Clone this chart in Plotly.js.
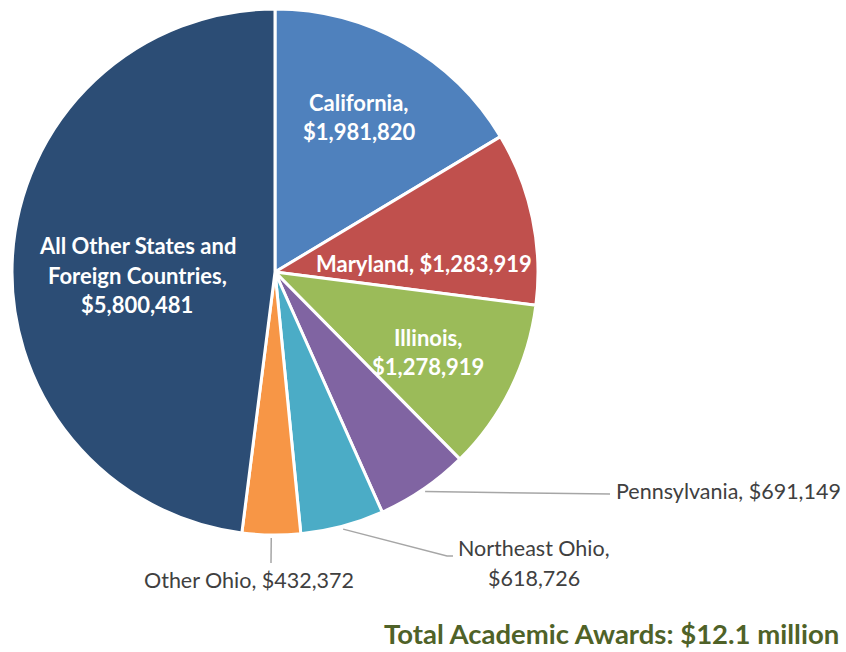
<!DOCTYPE html>
<html>
<head>
<meta charset="utf-8">
<script src="https://cdn.plot.ly/plotly-3.0.1.min.js"></script>
<style>html,body{margin:0;padding:0;background:#fff;}#chart{width:846px;height:652px;}</style>
</head>
<body>
<div id="chart"></div>
<script>
// ---- data ----
const labels = ['California', 'Maryland', 'Illinois', 'Pennsylvania', 'Northeast Ohio', 'Other Ohio', 'All Other States and Foreign Countries'];
const values = [1981820, 1283919, 1278919, 691149, 618726, 432372, 5800481];
const colors = ['#4F81BD', '#C0504D', '#9BBB59', '#8064A2', '#4BACC6', '#F79646', '#2C4D75'];
const totalTitle = 'Total Academic Awards: $12.1 million';

// ---- layout helpers (pixel geometry of the page) ----
const W = 846, H = 652;
const cx = 275, cy = 272, R = 263;
const px = x => x / W;
const py = y => 1 - y / H;
const fmt = v => '$' + v.toLocaleString('en-US');

// label line splitting & placement (layout only)
const labelLines = [
  ['California,', fmt(values[0])],
  [labels[1] + ', ' + fmt(values[1])],
  ['Illinois,', fmt(values[2])],
  [labels[3] + ', ' + fmt(values[3])],
  ['Northeast Ohio,', fmt(values[4])],
  [labels[5] + ', ' + fmt(values[5])],
  ['All Other States and', 'Foreign Countries,', fmt(values[6])]
];
const inside = [true, true, true, false, false, false, true];
const labelPos = [
  {x: 359, y: 117, anchor: 'center'},
  {x: 424, y: 263, anchor: 'center'},
  {x: 428, y: 352, anchor: 'center'},
  {x: 614, y: 491, anchor: 'left'},
  {x: 534, y: 563, anchor: 'center'},
  {x: 249, y: 580, anchor: 'center'},
  {x: 137, y: 275, anchor: 'center'}
];
// leader elbows for outside labels
const leaders = {
  3: [[610, 494]],
  4: [[447, 556], [453, 556]],
  5: [[271, 563]]
};

const FONT = 'Lato, "Open Sans", sans-serif';
const total = values.reduce((a, b) => a + b, 0);
const annotations = [];
const shapes = [];
let cum = 0;
values.forEach((v, i) => {
  const mid = (cum + v / 2) / total * 2 * Math.PI;
  cum += v;
  const lines = labelLines[i];
  const lh = 29.5;
  const p = labelPos[i];
  lines.forEach((t, k) => {
    annotations.push({
      text: inside[i] ? '<b>' + t + '</b>' : t,
      x: px(p.x), y: py(p.y + (k - (lines.length - 1) / 2) * lh),
      xref: 'paper', yref: 'paper', xanchor: p.anchor, yanchor: 'middle',
      showarrow: false,
      font: {family: FONT, size: inside[i] ? 22 : 21.5, color: inside[i] ? '#FFFFFF' : '#404040'}
    });
  });
  if (leaders[i]) {
    const sx = cx + (R + 3) * Math.sin(mid), sy = cy - (R + 3) * Math.cos(mid);
    let path = 'M ' + px(sx) + ' ' + py(sy);
    leaders[i].forEach(pt => { path += ' L ' + px(pt[0]) + ' ' + py(pt[1]); });
    shapes.push({type: 'path', xref: 'paper', yref: 'paper', path: path, line: {color: '#A6A6A6', width: 1.5}});
  }
});

annotations.push({
  text: '<b>' + totalTitle + '</b>',
  x: px(841), y: py(633), xref: 'paper', yref: 'paper', xanchor: 'right', yanchor: 'middle',
  showarrow: false,
  font: {family: FONT, size: 27.5, color: '#4F6228'}
});

const trace = {
  type: 'pie',
  labels: labels,
  values: values,
  sort: false,
  direction: 'clockwise',
  rotation: 0,
  textinfo: 'none',
  hoverinfo: 'label+value',
  marker: {colors: colors, line: {color: '#FFFFFF', width: 3}},
  domain: {x: [px(cx - R), px(cx + R)], y: [py(cy + R), py(cy - R)]},
  showlegend: false
};

Plotly.newPlot('chart', [trace], {
  width: W, height: H,
  margin: {l: 0, r: 0, t: 0, b: 0},
  paper_bgcolor: '#FFFFFF',
  showlegend: false,
  annotations: annotations,
  shapes: shapes
}, {displayModeBar: false, staticPlot: true});
</script>
</body>
</html>
